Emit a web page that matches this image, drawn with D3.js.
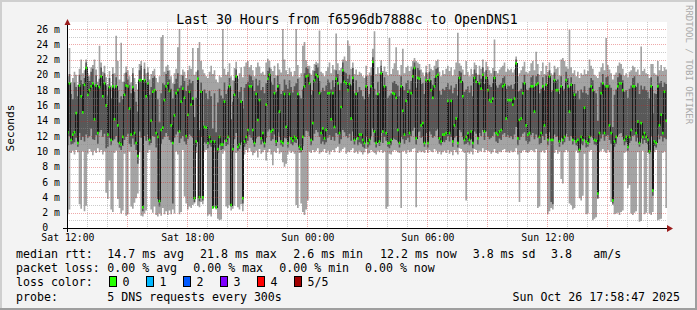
<!DOCTYPE html>
<html>
<head>
<meta charset="utf-8">
<script src="https://cdn.jsdelivr.net/npm/d3@7/dist/d3.min.js"></script>
<style>
  body { margin: 0; background: #f3f3f3; }
  svg { display: block; font-family: "DejaVu Sans Mono", monospace; }
</style>
</head>
<body>
<script>
// smokeping style: 5 pings every 300s, sorted per step (ms)
// 360 steps = 30 hours, one line per 6 hours
var pingMin = [
  1.8,2.4,9.8,10.1,9.6,10.2,9.9,3.1,2.5,10.0,2.2,2.9,9.7,10.3,10.0,9.5,10.1,9.8,10.4,9.9,10.2,9.6,10.0,4.6,3.8,6.2,2.4,2.1,9.8,10.1,3.8,2.6,1.9,2.3,9.7,1.6,1.8,10.0,2.8,2.5,3.3,3.9,4.5,9.9,1.6,1.5,1.9,2.3,9.8,10.2,2.4,2.0,2.8,1.7,1.5,1.9,1.6,2.6,1.8,2.2,1.7,2.3,1.8,2.4,1.9,10.0,9.6,1.8,2.1,10.2,4.1,3.2,
  2.4,2.8,2.6,3.0,3.2,9.8,2.9,2.7,3.4,3.1,9.9,10.2,1.6,1.8,1.5,2.5,2.7,2.4,1.2,1.0,1.1,9.7,10.1,2.8,2.6,3.0,2.3,2.5,2.9,9.8,2.7,2.4,3.1,2.2,9.6,10.2,9.9,10.4,10.0,9.5,9.8,10.1,9.2,10.3,9.7,9.9,10.2,8.8,9.9,10.3,9.6,8.2,10.0,9.8,10.4,9.7,9.9,8.6,8.0,8.4,9.6,10.1,9.8,10.0,9.7,3.0,2.6,9.8,3.2,2.1,1.7,2.4,
  3.6,10.0,9.8,10.2,9.9,10.1,10.4,9.7,9.9,10.0,10.3,9.8,10.1,9.6,10.0,10.2,9.9,10.4,10.6,9.8,10.1,10.3,10.5,9.7,10.0,9.9,10.2,10.4,9.8,10.0,9.7,10.1,9.9,9.6,9.9,10.3,9.7,9.8,10.2,10.0,9.8,9.6,10.1,9.9,10.2,9.8,10.0,2.5,2.8,9.7,9.6,10.0,10.2,10.1,9.9,9.8,2.6,10.0,10.1,9.7,10.2,9.9,10.0,10.3,10.4,2.7,9.8,10.1,9.9,10.0,9.8,10.2,
  9.8,10.2,10.0,9.9,10.3,10.1,9.7,10.0,9.6,9.9,10.1,9.8,10.2,9.7,10.0,9.5,10.2,9.9,9.6,10.4,10.3,10.0,9.8,3.6,9.9,9.7,10.0,9.6,10.3,10.2,9.8,10.1,10.0,10.4,9.9,10.2,10.1,10.0,9.7,9.9,10.3,9.8,9.7,10.0,9.9,10.2,10.3,9.9,10.0,9.8,10.1,9.9,10.0,10.4,9.6,3.4,9.8,10.1,10.2,9.9,9.8,10.0,10.2,10.1,9.9,10.3,2.6,2.8,9.9,10.1,9.8,10.2,
  1.8,2.2,2.6,2.4,9.8,10.2,9.7,10.0,6.4,5.8,9.9,10.2,10.0,3.2,3.0,2.4,2.6,10.1,9.8,3.9,3.6,4.2,9.7,1.8,1.9,10.0,10.2,1.0,1.2,1.4,3.8,9.9,10.1,10.3,10.0,9.8,10.2,9.9,3.4,3.0,1.8,1.9,2.0,1.7,2.1,2.3,9.8,10.0,5.2,5.6,1.9,1.7,2.0,2.2,9.9,0.8,0.9,10.1,1.8,2.0,9.8,1.9,1.7,2.1,9.9,10.2,1.0,1.1,1.2,9.8,10.0,2.6
];
var ping2 = [
  10.8,12.0,10.9,11.0,11.2,11.8,10.6,12.4,11.5,11.9,11.3,12.2,11.8,12.0,13.0,11.6,11.5,12.1,11.0,12.5,12.8,11.9,12.3,10.4,10.6,11.8,10.8,11.4,11.6,12.0,11.2,10.5,10.2,10.7,11.5,11.9,12.3,11.0,10.6,11.7,10.9,10.2,8.4,12.6,11.8,2.2,12.0,11.4,12.2,10.8,11.1,12.0,11.9,10.5,3.8,2.8,11.0,11.6,11.9,12.4,12.0,11.5,11.2,3.2,11.8,12.2,12.6,11.1,11.7,12.0,11.3,10.9,
  11.6,12.2,12.0,11.8,3.4,10.6,12.4,3.5,11.9,3.6,11.2,11.0,10.4,10.9,10.6,2.6,10.5,2.6,9.8,10.8,10.2,10.3,11.5,10.7,10.9,11.8,2.8,9.9,11.6,12.4,10.1,10.3,11.2,3.2,10.6,11.0,11.4,12.1,11.8,11.5,10.6,11.7,11.9,12.0,10.9,11.3,10.5,11.8,12.6,12.9,11.4,11.6,12.2,10.7,12.5,11.9,10.8,10.6,11.8,11.7,10.5,12.0,11.0,10.8,11.2,11.1,11.6,10.2,9.9,10.7,11.9,12.7,
  12.6,12.0,10.8,11.4,12.3,12.8,12.5,11.9,11.0,11.3,10.9,11.2,11.8,12.1,11.5,11.9,11.4,12.4,12.2,11.0,11.6,12.8,12.5,12.0,11.8,12.3,11.4,12.6,10.9,11.8,10.8,11.2,11.0,10.6,10.4,11.9,10.5,10.8,12.0,13.0,11.2,10.5,11.7,10.7,12.4,11.1,11.9,11.4,10.6,10.4,10.8,11.8,11.6,11.5,11.3,10.5,11.9,11.6,11.0,11.5,11.8,11.2,12.0,12.7,13.1,10.9,12.5,12.6,11.8,11.9,10.6,12.4,
  10.5,12.6,12.2,11.8,12.0,12.7,12.9,11.0,10.8,11.4,11.2,11.5,12.0,11.3,11.9,10.6,11.8,12.0,10.5,12.8,12.5,11.9,10.9,11.0,11.2,10.8,11.6,10.4,12.6,12.3,10.9,12.4,12.0,12.8,11.5,12.6,11.9,11.6,11.8,12.0,12.5,11.3,11.1,11.7,11.5,12.2,12.4,11.9,12.1,11.8,12.0,11.6,12.2,13.2,10.8,11.5,11.9,12.3,12.5,11.4,11.0,11.3,12.1,12.4,11.6,12.2,11.8,10.9,11.1,12.0,11.5,12.3,
  10.8,12.5,3.4,3.1,12.2,11.9,12.0,10.6,11.8,10.9,11.2,12.3,11.9,11.4,12.0,10.9,11.5,10.8,10.7,9.9,11.0,10.8,11.6,10.5,10.6,11.1,12.0,11.8,10.9,10.8,3.9,11.3,11.7,12.2,11.4,12.0,12.1,11.5,11.0,3.2,10.6,11.0,12.1,12.3,12.4,11.9,10.8,11.2,10.1,11.1,11.4,12.0,12.1,11.3,11.8,10.6,11.7,11.0,11.5,11.1,10.9,9.7,12.0,4.2,10.7,10.5,12.2,11.6,12.0,11.3,11.8,11.6
];
var median = [
  12.5,18.9,11.5,12.2,12.5,15.0,11.1,18.6,17.2,15.1,18.7,20.9,17.4,18.0,18.5,18.9,14.2,18.6,12.4,18.4,19.8,17.2,18.9,16.0,12.2,18.4,11.5,18.5,14.2,18.5,13.4,11.1,10.9,11.9,17.4,18.6,18.5,15.6,12.2,18.4,12.4,11.1,9.4,19.3,19.3,2.7,19.3,17.2,18.9,11.5,14.0,17.8,18.0,12.4,11.9,3.5,12.8,13.1,16.7,18.5,18.9,17.9,13.4,11.1,14.7,17.6,18.0,12.6,16.5,18.2,17.0,12.0,
  14.8,17.8,16.1,16.9,3.9,11.3,19.5,4.0,17.8,4.0,13.2,13.1,11.1,11.9,11.3,2.7,11.3,2.7,10.3,11.9,10.9,10.9,16.5,11.4,11.9,18.5,3.0,10.3,17.4,19.8,10.6,10.9,16.5,3.9,11.3,11.9,12.8,18.5,18.5,12.8,11.1,17.5,14.1,16.7,11.7,12.4,11.1,16.1,19.5,20.0,12.6,12.8,17.6,11.3,18.5,15.2,11.3,11.1,17.5,13.2,11.1,17.5,11.7,11.4,11.9,11.7,17.5,10.6,10.3,11.9,18.5,19.8,
  19.9,18.9,11.5,13.7,19.3,20.0,19.8,17.6,12.4,13.0,11.7,12.8,17.6,17.6,14.2,17.6,13.2,19.5,18.9,12.4,15.8,20.6,19.1,18.9,18.0,18.8,14.3,19.6,11.5,17.5,11.7,12.2,12.2,11.5,11.1,18.5,11.1,11.5,18.5,21.7,12.6,11.1,17.5,11.3,20.2,12.6,18.5,12.4,11.1,11.1,11.5,17.6,17.5,17.0,12.8,11.1,18.5,15.3,12.2,16.6,17.8,12.4,17.6,19.8,20.9,11.7,19.6,19.5,13.4,13.7,11.1,19.3,
  11.1,19.3,18.0,17.0,18.5,19.8,20.0,11.7,11.3,12.2,12.2,12.4,16.6,12.4,16.6,11.3,13.4,14.3,11.1,19.6,19.1,17.2,11.5,11.9,12.4,11.5,12.6,11.1,19.6,19.1,11.7,18.9,18.2,20.0,12.6,19.6,18.0,16.7,16.5,16.9,19.6,12.4,12.2,12.6,12.8,18.5,18.7,14.3,16.7,16.7,16.7,16.1,16.9,21.5,11.7,14.1,14.3,17.6,18.9,13.4,12.2,12.4,18.5,18.5,15.2,18.7,18.9,11.9,12.4,18.5,13.4,18.7,
  11.5,19.8,11.5,11.5,19.3,18.0,18.0,11.3,18.5,11.5,11.9,19.3,18.5,15.2,18.7,11.5,17.4,11.3,11.5,10.2,11.9,11.5,15.7,11.3,11.1,11.9,18.5,18.0,11.5,11.4,4.5,12.4,17.6,18.9,12.4,18.5,18.5,13.4,12.4,3.6,11.3,11.9,18.5,18.9,18.9,18.0,11.5,11.9,10.6,11.9,12.8,18.5,18.5,12.4,13.9,11.1,13.7,11.9,12.4,11.9,11.5,10.0,18.5,4.9,11.3,11.1,18.5,13.4,14.8,12.4,17.8,14.0
];
var ping4 = [
  18.2,20.1,17.5,16.8,19.0,18.4,17.2,20.0,19.3,18.8,19.6,21.6,19.8,19.2,20.4,20.8,18.6,19.9,17.8,19.5,21.0,19.4,20.2,18.6,17.3,19.6,16.9,20.1,18.2,19.7,18.0,16.4,17.2,16.8,19.1,20.3,19.4,18.7,17.6,20.2,17.8,16.5,15.2,20.6,21.2,14.8,20.8,19.0,20.3,17.4,18.4,19.6,19.8,17.9,16.8,13.8,17.6,18.9,18.7,20.1,20.5,19.4,18.2,16.9,18.8,19.5,20.2,18.3,18.6,19.9,19.2,17.9,
  18.6,19.4,18.9,19.2,14.5,17.0,20.6,12.8,19.0,13.4,18.1,17.6,16.8,17.9,17.2,13.0,17.6,12.5,16.4,18.2,17.3,16.9,19.0,17.5,18.1,19.6,14.2,16.5,19.2,20.7,17.0,17.8,18.4,15.6,18.3,18.8,19.1,20.0,19.8,19.3,17.9,19.5,18.6,19.3,18.0,18.4,17.6,18.9,20.5,21.0,19.1,18.7,19.6,17.8,19.9,18.8,17.5,17.9,19.4,18.7,18.2,19.3,18.4,17.7,18.5,18.9,19.5,17.3,16.9,18.1,20.2,21.0,
  20.8,20.2,17.4,18.0,20.5,21.3,21.0,19.2,17.8,18.3,17.9,18.6,19.4,19.0,18.1,19.3,18.4,20.6,20.1,18.0,18.9,21.6,20.4,20.2,19.5,20.0,18.6,20.9,17.6,19.3,17.8,18.4,18.0,17.2,16.8,19.8,17.1,17.5,19.9,22.3,18.2,17.4,19.1,17.6,21.2,18.3,19.7,18.5,17.0,17.3,17.6,19.0,19.2,18.8,18.6,17.2,19.8,18.4,18.0,18.9,19.3,18.1,19.2,20.7,21.6,18.3,20.9,20.6,18.8,18.9,17.5,20.3,
  17.2,20.4,19.3,18.7,19.6,20.8,21.0,17.9,17.4,18.2,18.0,18.4,18.9,18.1,18.6,17.6,18.3,18.8,17.3,20.5,20.3,19.0,17.8,18.1,18.5,17.7,18.6,17.2,20.7,20.2,17.9,20.0,19.5,21.0,18.8,20.6,19.4,18.7,18.4,18.9,20.5,18.6,18.3,18.7,18.9,19.6,19.8,18.2,18.6,18.5,18.7,18.2,18.8,22.0,17.8,17.9,18.2,19.0,20.0,18.1,18.0,18.3,19.7,19.9,18.4,19.8,20.1,17.6,18.2,19.7,18.0,19.9,
  17.6,20.6,17.8,18.0,20.3,19.2,19.4,17.5,19.8,17.9,18.2,20.4,19.6,18.3,19.7,17.8,18.8,17.6,17.9,16.8,18.1,17.7,18.5,17.6,17.4,18.3,19.6,19.3,17.9,17.6,14.0,18.4,19.0,20.1,18.6,19.7,19.8,18.7,18.3,13.2,17.4,18.1,19.7,20.2,20.0,19.3,17.8,18.0,17.0,18.2,18.6,19.6,19.8,18.4,18.9,17.5,18.6,18.1,18.5,18.0,17.8,16.9,19.7,15.0,17.6,17.5,19.8,18.9,19.2,18.4,19.0,18.8
];
var pingMax = [
  19.8,23.5,19.0,19.6,20.4,20.0,18.7,20.8,22.0,20.2,20.6,22.0,20.2,19.8,21.0,21.3,22.0,20.7,19.1,23.8,21.6,20.4,21.2,19.7,18.8,20.5,18.6,21.0,20.2,25.1,21.8,19.4,24.2,19.1,20.2,21.1,20.6,19.8,19.0,20.9,19.6,18.8,18.1,21.4,21.8,18.7,21.6,20.2,21.0,19.4,20.1,20.5,20.8,19.6,19.0,19.8,24.9,25.2,20.4,21.1,21.3,20.6,19.8,18.9,20.2,20.8,23.6,26.0,20.0,20.7,20.4,19.6,
  20.6,21.2,20.8,23.5,20.0,20.4,23.5,24.3,21.8,20.7,20.2,19.8,19.6,20.4,21.2,20.1,20.6,19.4,19.0,19.9,19.7,26.0,20.8,20.0,20.4,21.5,19.8,19.3,20.9,21.7,19.5,20.2,21.0,19.7,21.1,21.6,21.8,21.0,21.3,20.6,19.8,21.0,21.6,21.1,20.2,20.4,20.0,21.6,22.1,21.8,20.8,20.5,21.2,19.9,21.5,20.7,20.3,26.0,22.0,20.6,20.1,20.9,20.4,19.8,20.5,26.0,21.3,19.7,20.2,23.8,24.3,21.9,
  21.2,21.2,20.0,20.6,21.4,21.7,21.5,25.8,20.4,20.2,19.8,20.5,21.0,21.6,20.2,21.3,20.7,25.4,21.5,20.6,20.9,22.0,22.4,21.8,24.5,23.8,20.8,21.6,20.1,20.7,20.0,20.4,20.2,19.8,19.6,21.2,19.9,20.3,21.0,23.4,25.7,20.1,21.0,20.2,21.9,20.5,21.1,20.4,19.9,24.8,20.1,20.8,21.5,23.6,20.6,20.0,21.3,23.4,20.2,21.0,21.2,20.5,21.1,21.8,22.2,21.8,21.6,21.4,20.7,20.3,19.8,21.2,
  20.2,21.4,20.8,20.6,21.2,21.8,22.0,20.4,19.8,20.6,20.1,20.8,21.2,20.5,21.0,19.9,20.7,21.6,25.5,21.5,21.2,20.7,20.0,21.8,20.4,19.8,20.8,20.1,21.6,21.3,20.0,21.2,20.8,22.0,20.4,21.7,21.1,20.6,20.2,20.9,24.6,20.5,20.2,20.7,21.0,21.2,21.6,20.4,20.8,20.6,20.8,20.3,20.7,22.4,19.8,20.2,20.6,21.1,21.7,20.4,20.2,20.5,21.5,21.8,20.6,23.0,21.4,20.0,20.5,21.6,20.1,21.2,
  20.4,21.6,20.2,20.0,21.2,20.8,21.0,19.9,22.0,22.2,21.8,21.1,20.8,25.9,21.0,20.2,20.6,19.8,20.4,19.6,20.2,20.0,20.7,20.1,20.5,22.0,21.2,20.8,20.0,19.8,19.6,20.4,21.0,21.5,20.6,24.8,21.3,20.7,20.2,19.4,20.0,20.3,21.2,21.6,21.4,20.8,19.9,20.2,19.7,20.4,20.6,21.2,21.0,20.4,20.7,20.0,23.7,20.5,20.8,20.2,20.1,19.6,21.4,21.4,20.2,20.0,21.8,20.6,21.3,20.5,21.0,20.7
];

var yTicks = [0, 2, 4, 6, 8, 10, 12, 14, 16, 18, 20, 22, 24, 26];
var title = "Last 30 Hours from f6596db7888c to OpenDNS1";
var rttLegend = ["median rtt:", "14.7 ms avg", "21.8 ms max", "2.6 ms min", "12.2 ms now", "3.8 ms sd", "3.8", "am/s"];
var lossLegend = ["packet loss:", "0.00 % avg", "0.00 % max", "0.00 % min", "0.00 % now"];
var lossLabels = ["0", "1", "2", "3", "4", "5/5"];
var lossColors = ["#26ff00", "#00b8ff", "#0059ff", "#7e00ff", "#ff0000", "#a10000"];
var probeLegend = ["probe:", "5 DNS requests every 300s"];
var stamp = "Sun Oct 26 17:58:47 2025";

var W = 697, H = 310;
var end = new Date(2025, 9, 26, 17, 58, 47);
var start = new Date(end.getTime() - 30 * 3600 * 1000);
var STEP = 300 * 1000;

var svg = d3.select("body").append("svg")
    .attr("width", W)
    .attr("height", H);

// frame
svg.append("rect").attr("width", W).attr("height", H).attr("fill", "#f3f3f3");
svg.append("path").attr("d", "M0,0H" + W + "V2H2V" + H + "H0Z").attr("fill", "#cfcfcf");
svg.append("path").attr("d", "M" + W + "," + H + "H0V" + (H - 2) + "H" + (W - 2) + "V0H" + W + "Z").attr("fill", "#9e9e9e");

var x = d3.scaleTime().domain([start, end]).range([67, 667]);
var y = d3.scaleLinear().domain([0, 26.9]).range([228, 22]);

svg.append("rect")
    .attr("x", 67).attr("y", 22)
    .attr("width", 600).attr("height", 206)
    .attr("fill", "#fff");

var pts = median.map(function(m, i) {
  return {t: new Date(start.getTime() + i * STEP), lo: pingMin[i], p2: ping2[i], med: m, p4: ping4[i], hi: pingMax[i]};
});
// extra point so the last step is closed
var last = pts[pts.length - 1];
var stepped = pts.concat([{t: end, lo: last.lo, p2: last.p2, med: last.med, p4: last.p4, hi: last.hi}]);

var plot = svg.append("g");

plot.append("path")
    .datum(stepped)
    .attr("fill", "#a4a4a4")
    .attr("d", d3.area().curve(d3.curveStepAfter)
        .x(function(d) { return x(d.t); })
        .y0(function(d) { return y(d.lo); })
        .y1(function(d) { return y(d.hi); }));

plot.append("path")
    .datum(stepped)
    .attr("fill", "#585858")
    .attr("d", d3.area().curve(d3.curveStepAfter)
        .x(function(d) { return x(d.t); })
        .y0(function(d) { return y(d.p2); })
        .y1(function(d) { return y(d.p4); }));

plot.append("path")
    .datum(stepped)
    .attr("fill", "none")
    .attr("stroke", "#1c1c1c")
    .attr("stroke-width", 1)
    .attr("shape-rendering", "crispEdges")
    .attr("d", d3.line().curve(d3.curveStepAfter)
        .x(function(d) { return x(d.t); })
        .y(function(d) { return y(d.med); }));

// median marks, coloured by loss (no loss here)
plot.selectAll("rect.med")
    .data(pts)
    .enter().append("rect")
    .attr("class", "med")
    .attr("x", function(d) { return x(d.t); })
    .attr("width", function(d) { return x(new Date(d.t.getTime() + STEP)) - x(d.t); })
    .attr("y", function(d) { return y(d.med) - 1.3; })
    .attr("height", 2.6)
    .attr("fill", lossColors[0]);

// grid on top of the smoke
var grid = svg.append("g").attr("shape-rendering", "crispEdges");
var minorY = d3.range(1, 27, 2);
grid.selectAll("line.hmin").data(minorY).enter().append("line")
    .attr("x1", 67).attr("x2", 667)
    .attr("y1", function(d) { return Math.round(y(d)) + 0.5; })
    .attr("y2", function(d) { return Math.round(y(d)) + 0.5; })
    .attr("stroke", "rgba(140,140,140,0.45)")
    .attr("stroke-dasharray", "1,1");

var hours = x.ticks(d3.timeHour.every(1));
grid.selectAll("line.vmin").data(hours.filter(function(d) { return d.getHours() % 3 != 0; }))
    .enter().append("line")
    .attr("x1", function(d) { return Math.round(x(d)) + 0.5; })
    .attr("x2", function(d) { return Math.round(x(d)) + 0.5; })
    .attr("y1", 22).attr("y2", 228)
    .attr("stroke", "rgba(140,140,140,0.45)")
    .attr("stroke-dasharray", "1,1");

grid.selectAll("line.hmaj").data(yTicks.filter(function(d) { return d > 0; }))
    .enter().append("line")
    .attr("x1", 67).attr("x2", 667)
    .attr("y1", function(d) { return Math.round(y(d)) + 0.5; })
    .attr("y2", function(d) { return Math.round(y(d)) + 0.5; })
    .attr("stroke", "rgba(210,30,30,0.38)")
    .attr("stroke-dasharray", "1,1");

grid.selectAll("line.vmaj").data(hours.filter(function(d) { return d.getHours() % 3 == 0; }))
    .enter().append("line")
    .attr("x1", function(d) { return Math.round(x(d)) + 0.5; })
    .attr("x2", function(d) { return Math.round(x(d)) + 0.5; })
    .attr("y1", 22).attr("y2", 228)
    .attr("stroke", "rgba(210,30,30,0.38)")
    .attr("stroke-dasharray", "1,1");

// axes
svg.append("line").attr("x1", 63).attr("x2", 670).attr("y1", 228.5).attr("y2", 228.5)
    .attr("stroke", "#000").attr("shape-rendering", "crispEdges");
svg.append("line").attr("x1", 67.5).attr("x2", 67.5).attr("y1", 232).attr("y2", 22)
    .attr("stroke", "#000").attr("shape-rendering", "crispEdges");
svg.append("path").attr("d", "M667,225L673,228.5L667,232Z").attr("fill", "#9b1c1c");
svg.append("path").attr("d", "M64.5,25L67.5,19L70.5,25Z").attr("fill", "#9b1c1c");

var yAxis = d3.axisLeft(y).tickValues(yTicks).tickSize(0).tickPadding(0)
    .tickFormat(function(d) { return d == 0 ? "0" : d + " m"; });
svg.append("g").attr("transform", "translate(60,0)").call(yAxis)
    .call(function(g) { g.select(".domain").remove(); })
    .selectAll("text")
    .attr("font-family", "DejaVu Sans Mono, monospace")
    .attr("font-size", "9.8px")
    .attr("fill", "#000")
    // zero has a blank unit, so it sits two characters further left
    .attr("x", function(d) { return d == 0 ? -11.8 : 0; })
    .attr("dy", function(d) { return d == 0 ? "0.25em" : "0.32em"; });

var xAxis = d3.axisBottom(x).ticks(d3.timeHour.every(6)).tickSize(0).tickPadding(0)
    .tickFormat(d3.timeFormat("%a %H:%M"));
svg.append("g").attr("transform", "translate(0,234)").call(xAxis)
    .call(function(g) { g.select(".domain").remove(); })
    .selectAll("text")
    .attr("font-family", "DejaVu Sans Mono, monospace")
    .attr("font-size", "9.8px")
    .attr("fill", "#000");

// titles
svg.append("text").attr("x", 347).attr("y", 23.5)
    .attr("text-anchor", "middle").attr("font-size", "13.2px")
    .text(title);

svg.append("text").attr("transform", "translate(14,128) rotate(-90)")
    .attr("text-anchor", "middle").attr("font-size", "11.2px")
    .text("Seconds");

svg.append("text").attr("transform", "translate(685.5,5) rotate(90)")
    .attr("font-size", "9px").attr("fill", "#aaa")
    .text("RRDTOOL / TOBI OETIKER");

// legend
var legend = svg.append("g").attr("font-size", "11.6px").attr("fill", "#000");
var rttX = [16, 107.3, 200, 293.3, 380, 472.7, 551, 593.3];
legend.selectAll("text.rtt").data(rttLegend).enter().append("text")
    .attr("x", function(d, i) { return rttX[i]; })
    .attr("y", 258)
    .text(function(d) { return d; });

var lossX = [16, 107.3, 193.3, 279.3, 365];
legend.selectAll("text.loss").data(lossLegend).enter().append("text")
    .attr("x", function(d, i) { return lossX[i]; })
    .attr("y", 272)
    .text(function(d) { return d; });

legend.append("text").attr("x", 16).attr("y", 286).text("loss color:");
var boxes = legend.selectAll("g.lc").data(lossLabels).enter().append("g")
    .attr("transform", function(d, i) { return "translate(" + (108.5 + i * 37) + ",0)"; });
boxes.append("rect")
    .attr("x", 0.5).attr("y", 276.5).attr("width", 7).attr("height", 10)
    .attr("fill", function(d, i) { return lossColors[i]; })
    .attr("stroke", "#000").attr("shape-rendering", "crispEdges");
boxes.append("text").attr("x", 14).attr("y", 286).text(function(d) { return d; });

legend.append("text").attr("x", 16).attr("y", 301).text(probeLegend[0]);
legend.append("text").attr("x", 107.3).attr("y", 301).text(probeLegend[1]);
legend.append("text").attr("x", 680).attr("y", 301).attr("text-anchor", "end").text(stamp);
</script>
</body>
</html>
